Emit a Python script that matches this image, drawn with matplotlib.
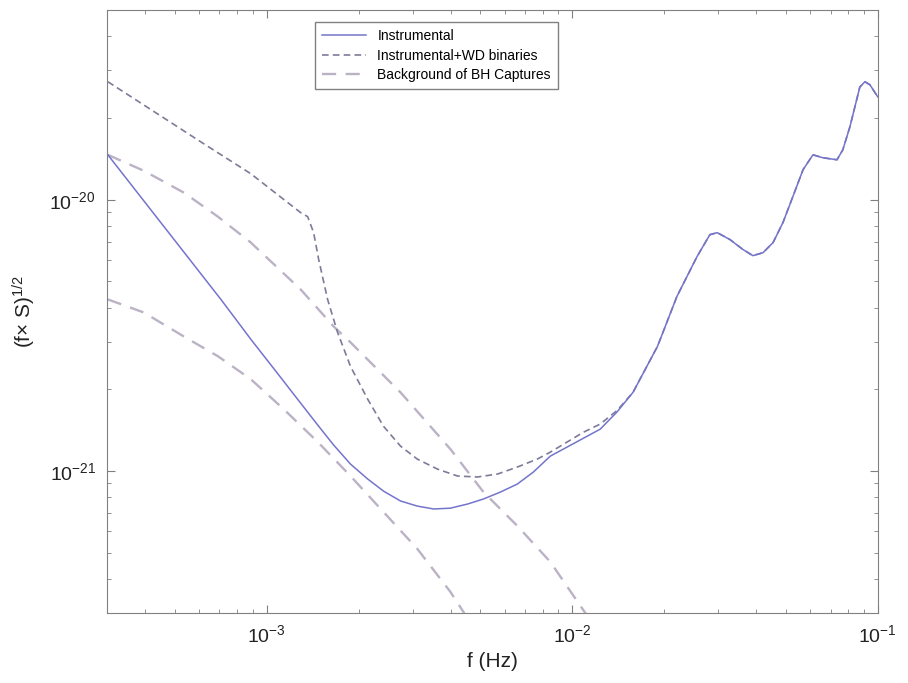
import numpy as np
import matplotlib
matplotlib.use('Agg')
import matplotlib.pyplot as plt

plt.rcParams['font.family'] = ['Liberation Sans', 'DejaVu Sans']
plt.rcParams['mathtext.fontset'] = 'custom'
plt.rcParams['mathtext.rm'] = 'Liberation Sans'
plt.rcParams['mathtext.it'] = 'Liberation Sans:italic'
plt.rcParams['mathtext.bf'] = 'Liberation Sans:bold'

# instrumental noise (solid)
inst_f = [3.02e-4, 7.08e-4, 8.87e-4, 1.137e-3, 1.225e-3, 1.47e-3, 1.656e-3, 1.88e-3,
          2.14e-3, 2.41e-3, 2.74e-3, 3.11e-3, 3.52e-3, 3.99e-3, 4.54e-3, 5.12e-3,
          5.82e-3, 6.61e-3, 7.46e-3, 8.47e-3, 1.234e-2, 1.40e-2, 1.58e-2, 1.90e-2,
          2.20e-2, 2.56e-2, 2.82e-2, 2.98e-2, 3.28e-2, 3.62e-2, 3.90e-2, 4.21e-2,
          4.54e-2, 4.89e-2, 5.27e-2, 5.69e-2, 6.13e-2, 6.61e-2, 7.35e-2, 7.68e-2,
          8.10e-2, 8.73e-2, 9.07e-2, 9.42e-2, 1.0e-1]
inst_s = [1.463e-20, 4.29e-21, 3.06e-21, 2.14e-21, 1.92e-21, 1.476e-21, 1.247e-21, 1.061e-21,
          9.35e-22, 8.44e-22, 7.76e-22, 7.43e-22, 7.25e-22, 7.30e-22, 7.56e-22, 7.89e-22,
          8.37e-22, 8.96e-22, 9.92e-22, 1.135e-21, 1.427e-21, 1.65e-21, 1.95e-21, 2.88e-21,
          4.40e-21, 6.17e-21, 7.43e-21, 7.56e-21, 7.13e-21, 6.55e-21, 6.22e-21, 6.38e-21,
          6.95e-21, 8.23e-21, 1.026e-20, 1.289e-20, 1.463e-20, 1.427e-20, 1.403e-20, 1.527e-20,
          1.855e-20, 2.60e-20, 2.72e-20, 2.65e-20, 2.39e-20]

# instrumental + WD binaries (low-f part, joins the instrumental curve above ~0.012 Hz)
wd_f = [3.02e-4, 6.08e-4, 8.87e-4, 1.291e-3, 1.361e-3, 1.424e-3, 1.479e-3, 1.582e-3,
        1.706e-3, 1.88e-3, 2.14e-3, 2.41e-3, 2.74e-3, 3.11e-3, 3.62e-3, 4.21e-3,
        4.89e-3, 5.69e-3, 6.61e-3, 7.68e-3, 8.47e-3, 1.087e-2, 1.234e-2, 1.40e-2]
wd_s = [2.72e-20, 1.634e-20, 1.246e-20, 8.96e-21, 8.66e-21, 7.56e-21, 6.02e-21, 4.29e-21,
        3.24e-21, 2.43e-21, 1.84e-21, 1.463e-21, 1.236e-21, 1.107e-21, 1.017e-21, 9.59e-22,
        9.51e-22, 9.75e-22, 1.035e-21, 1.107e-21, 1.174e-21, 1.39e-21, 1.49e-21, 1.67e-21]

# background of BH captures, upper and lower estimate
bh1_f = [3.02e-4, 3.96e-4, 5.36e-4, 6.92e-4, 8.87e-4, 1.291e-3, 1.656e-3, 1.88e-3,
         2.74e-3, 3.99e-3, 5.12e-3, 6.61e-3, 8.47e-3, 1.103e-2, 1.189e-2]
bh1_s = [1.463e-20, 1.278e-20, 1.061e-20, 8.66e-21, 6.95e-21, 4.67e-21, 3.41e-21, 2.98e-21,
         1.95e-21, 1.205e-21, 8.37e-22, 6.28e-22, 4.63e-22, 3.0e-22, 2.62e-22]
bh2_f = [3.02e-4, 3.96e-4, 5.36e-4, 6.92e-4, 8.87e-4, 1.137e-3, 1.47e-3, 1.88e-3,
         2.41e-3, 3.11e-3, 3.99e-3, 4.40e-3, 4.64e-3]
bh2_s = [4.29e-21, 3.84e-21, 3.13e-21, 2.65e-21, 2.18e-21, 1.69e-21, 1.279e-21, 9.59e-22,
         7.07e-22, 5.17e-22, 3.59e-22, 3.03e-22, 2.74e-22]

# WD curve continues along the instrumental one
k = inst_f.index(1.58e-2)
wd_f_all = wd_f + inst_f[k:]
wd_s_all = wd_s + inst_s[k:]

fig = plt.figure(figsize=(9.08, 6.83), dpi=100)
ax = fig.add_axes([0.1178, 0.1025, 0.849, 0.8829])

ax.plot(bh1_f, bh1_s, color='#bbb2c6', lw=1.7, dashes=(6, 4), label='Background of BH Captures')
ax.plot(bh2_f, bh2_s, color='#bbb2c6', lw=1.7, dashes=(6, 4), label='_nolegend_')
ax.plot(wd_f_all, wd_s_all, color='#7d7b98', lw=1.2, dashes=(4, 2.5), label='Instrumental+WD binaries')
ax.plot(inst_f, inst_s, color='#7474cc', lw=1.1, label='Instrumental')

ax.set_xscale('log')
ax.set_yscale('log')
ax.set_xlim(3.0e-4, 1e-1)
ax.set_ylim(3.0e-22, 5.0e-20)

for sp in ax.spines.values():
    sp.set_color('#808080')
ax.tick_params(which='both', direction='in', top=True, right=True, colors='#808080',
               labelcolor='#222222', labelsize=14)
ax.tick_params(which='major', length=6, pad=8)
ax.tick_params(which='minor', length=3)

ax.set_xlabel('f (Hz)', fontsize=15, color='#222222', labelpad=4)
ax.set_ylabel('(f$\\times$ S)$^{1/2}$', fontsize=15, color='#222222', labelpad=8)

h, l = ax.get_legend_handles_labels()
order = [2, 1, 0]
leg = ax.legend([h[i] for i in order], [l[i] for i in order], loc='upper left',
                bbox_to_anchor=(0.2698, 0.980), borderaxespad=0, fontsize=10,
                fancybox=False, edgecolor='#808080', framealpha=1, handlelength=3.2,
                borderpad=0.5, labelspacing=0.4, handletextpad=0.8)
leg.get_frame().set_linewidth(1.0)

fig.savefig('out.png', dpi=100)
